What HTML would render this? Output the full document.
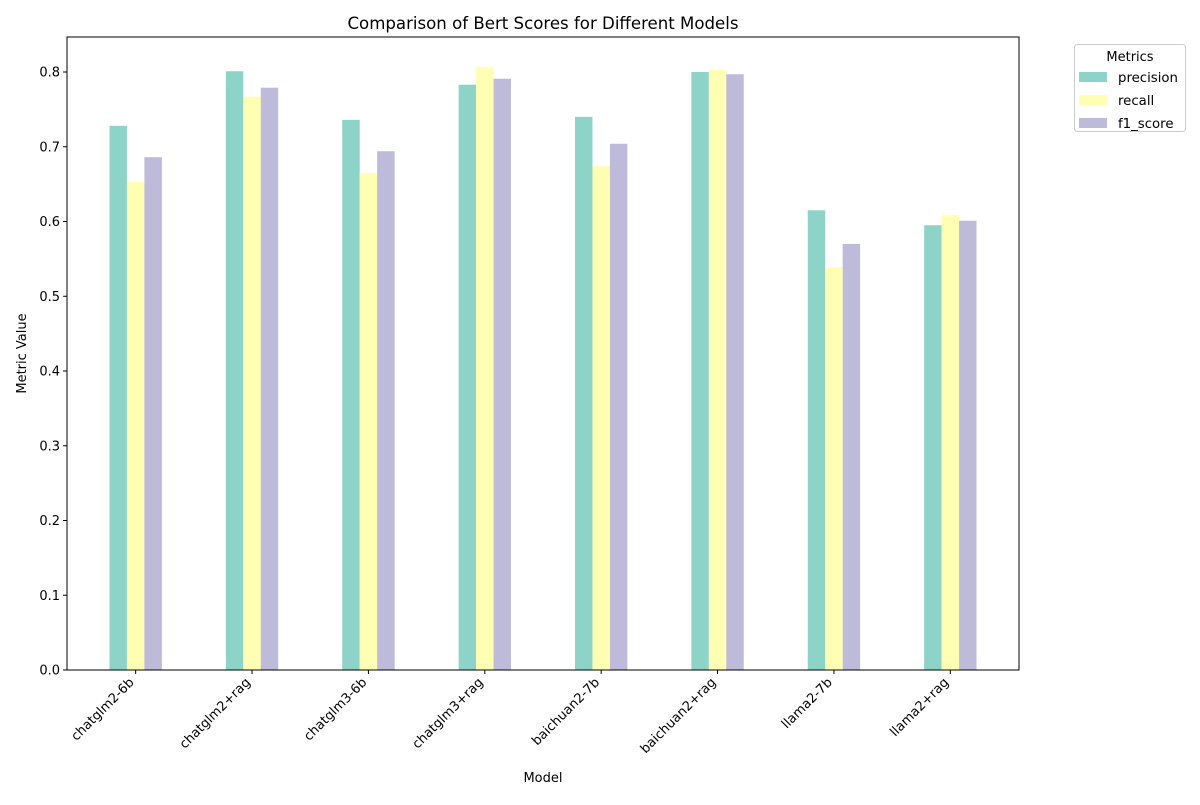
<!DOCTYPE html>
<html><head><meta charset="utf-8"><style>
body{margin:0;background:#fff;font-family:"Liberation Sans","DejaVu Sans",sans-serif}
svg text{font-family:"DejaVu Sans","Liberation Sans",sans-serif}
</style></head><body>
<svg id="chart" width="1200" height="800" xmlns="http://www.w3.org/2000/svg"></svg>
<script>
const categories=["chatglm2-6b","chatglm2+rag","chatglm3-6b","chatglm3+rag","baichuan2-7b","baichuan2+rag","llama2-7b","llama2+rag"];
const precision=[0.728,0.801,0.736,0.783,0.740,0.800,0.615,0.595];
const recall=[0.653,0.767,0.665,0.807,0.674,0.803,0.539,0.609];
const f1Score=[0.686,0.779,0.694,0.791,0.704,0.797,0.570,0.601];
const yTicks=[0,0.1,0.2,0.3,0.4,0.5,0.6,0.7,0.8];
const seriesNames=["precision","recall","f1_score"];
const colors=["#8dd3c7","#ffffb3","#bebada"];
const NS="http://www.w3.org/2000/svg";
const svg=document.getElementById('chart');
const L=67,R=1019,T=37,B=670;
const xMin=-0.59,xMax=7.59;
const x=v=>L+(v-xMin)/(xMax-xMin)*(R-L);
const y=v=>B-v/0.8*(B-72);
function el(tag,attrs,parent){const e=document.createElementNS(NS,tag);for(const k in attrs)e.setAttribute(k,attrs[k]);(parent||svg).appendChild(e);return e;}
const series=[precision,recall,f1Score];
const bw=0.15;
series.forEach((vals,s)=>{
  vals.forEach((v,i)=>{
    const c=i+(s-1)*bw;
    const r=el('rect',{x:x(c-bw/2),y:y(v),width:x(c+bw/2)-x(c-bw/2),height:y(0)-y(v),fill:colors[s]});
    
    
  });
});
const frame=el('rect',{x:L,y:T,width:R-L,height:B-T,fill:'none',stroke:'#000','stroke-width':1});


yTicks.forEach(t=>{
  el('line',{x1:L-4,x2:L,y1:y(t),y2:y(t),stroke:'#000'});
  const tx=el('text',{x:L-7,y:y(t)+4.5,'text-anchor':'end','font-size':13});
  tx.textContent=t.toFixed(1);
  
  
});
categories.forEach((c,i)=>{
  const px=x(i);
  el('line',{x1:px,x2:px,y1:B,y2:B+4,stroke:'#000'});
  const ax=px-1, ay=B+13;
  const tx=el('text',{x:ax,y:ay,'text-anchor':'end','font-size':13,transform:`rotate(-45 ${ax} ${ay})`});
  tx.textContent=c;
  
  
});
const title=el('text',{x:(L+R)/2,y:29,'text-anchor':'middle','font-size':16.6});
title.textContent='Comparison of Bert Scores for Different Models';


const xl=el('text',{x:(L+R)/2,y:782,'text-anchor':'middle','font-size':13});
xl.textContent='Model';


const yl=el('text',{x:26,y:(T+B)/2,'text-anchor':'middle','font-size':13,transform:`rotate(-90 26 ${(T+B)/2})`});
yl.textContent='Metric Value';


const lg=el('g',{});


el('rect',{x:1074.5,y:44.5,width:111,height:87,rx:3,fill:'#fff',stroke:'#ccc'},lg);
const lt=el('text',{x:1130,y:61,'text-anchor':'middle','font-size':13},lg);
lt.textContent='Metrics';
seriesNames.forEach((n,s)=>{
  const yy=77+s*23;
  const sw=el('rect',{x:1079,y:yy-5,width:28,height:10,fill:colors[s]},lg);
  
  
  const t=el('text',{x:1118,y:yy+5,'font-size':13.3},lg);
  t.textContent=n;
  
  
});
</script>
</body></html>
